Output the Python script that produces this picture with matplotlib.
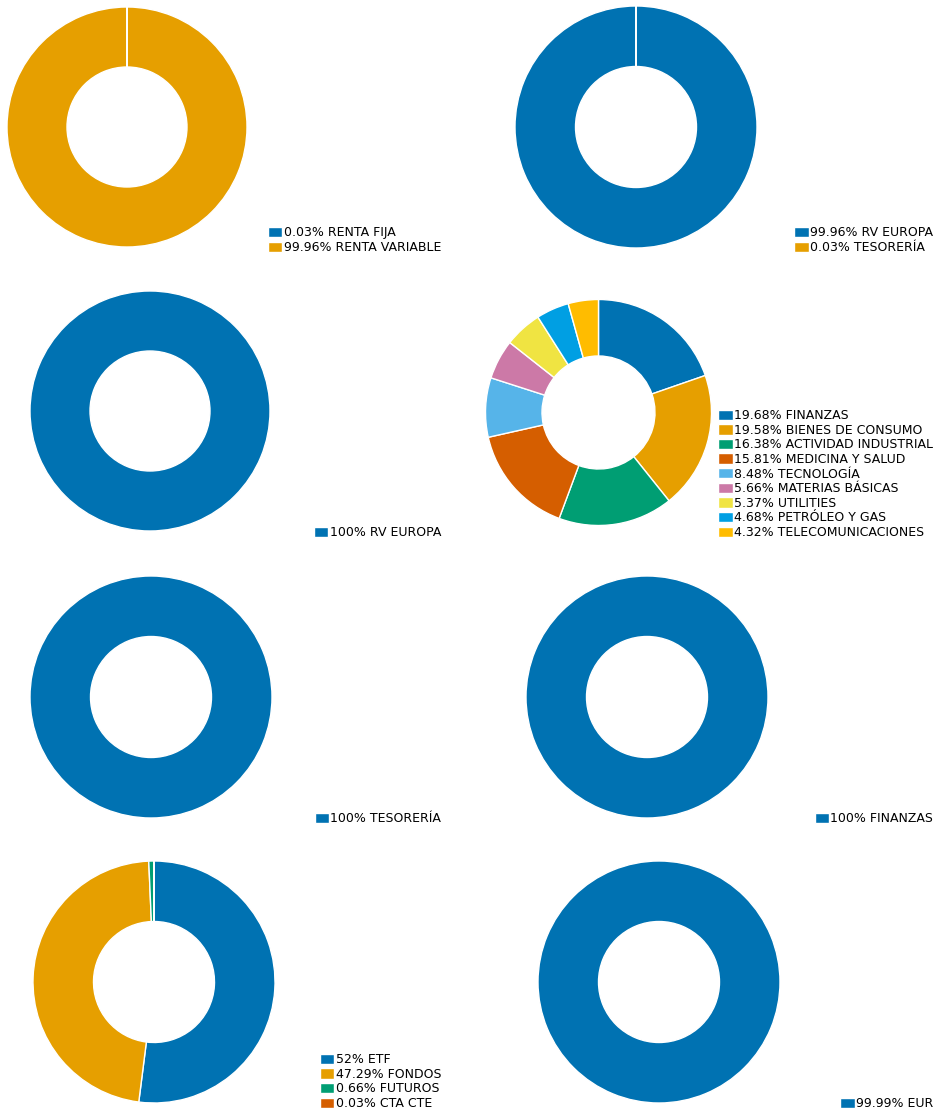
import matplotlib
matplotlib.use("Agg")
import matplotlib.pyplot as plt

W, H = 933, 1113

BLUE = "#0072B2"
ORANGE = "#E69F00"
GREEN = "#009E73"
VERMILION = "#D55E00"
SKY = "#56B4E9"
PINK = "#CC79A7"
YELLOW = "#F0E442"
BRIGHT_BLUE = "#009FE3"
AMBER = "#FFBC00"
COLORS = [BLUE, ORANGE, GREEN, VERMILION, SKY, PINK, YELLOW, BRIGHT_BLUE, AMBER]

# data per panel
asset_names = ["RENTA FIJA", "RENTA VARIABLE"]
asset_values = [0.03, 99.96]

region_names = ["RV EUROPA", "TESORERÍA"]
region_values = [99.96, 0.03]

rv_names = ["RV EUROPA"]
rv_values = [100]

sector_names = ["FINANZAS", "BIENES DE CONSUMO", "ACTIVIDAD INDUSTRIAL",
                "MEDICINA Y SALUD", "TECNOLOGÍA", "MATERIAS BÁSICAS",
                "UTILITIES", "PETRÓLEO Y GAS", "TELECOMUNICACIONES"]
sector_values = [19.68, 19.58, 16.38, 15.81, 8.48, 5.66, 5.37, 4.68, 4.32]

cash_names = ["TESORERÍA"]
cash_values = [100]

fin_names = ["FINANZAS"]
fin_values = [100]

type_names = ["ETF", "FONDOS", "FUTUROS", "CTA CTE"]
type_values = [52, 47.29, 0.66, 0.03]

currency_names = ["EUR"]
currency_values = [99.99]

# (names, values, pie center x, center y, radius, legend right x, legend bottom y) in pixels
panels = [
    (asset_names, asset_values, 127, 127, 120, 441, 254),
    (region_names, region_values, 636, 127, 121, 933, 254),
    (rv_names, rv_values, 150, 411, 120, 441, 539),
    (sector_names, sector_values, 598.5, 412.5, 113, 933, 539),
    (cash_names, cash_values, 151, 697, 121, 441, 825),
    (fin_names, fin_values, 647, 697, 121, 933, 825),
    (type_names, type_values, 154, 982, 121, 441, 1110),
    (currency_names, currency_values, 659, 982, 121, 933, 1110),
]

fig = plt.figure(figsize=(W / 100, H / 100), dpi=100)

for names, values, cx, cy, r, lx, ly in panels:
    ax = fig.add_axes([(cx - r) / W, 1 - (cy + r) / H, 2 * r / W, 2 * r / H])
    wedges, _ = ax.pie(values, colors=COLORS[:len(values)], startangle=90,
                       counterclock=False, radius=1,
                       wedgeprops=dict(width=0.5, edgecolor="white", linewidth=1))
    ax.set_xlim(-1, 1)
    ax.set_ylim(-1, 1)
    ax.set_aspect("equal")
    ax.axis("off")
    labels = [f"{v:g}% {n}" for n, v in zip(names, values)]
    fig.legend(wedges, labels, loc="lower right",
               bbox_to_anchor=(lx / W, 1 - ly / H), bbox_transform=fig.transFigure,
               frameon=False, fontsize=9, labelspacing=0.13, handlelength=1.15,
               handleheight=0.9, handletextpad=0.1, borderpad=0, borderaxespad=0)

fig.savefig("out.png", dpi=100)
